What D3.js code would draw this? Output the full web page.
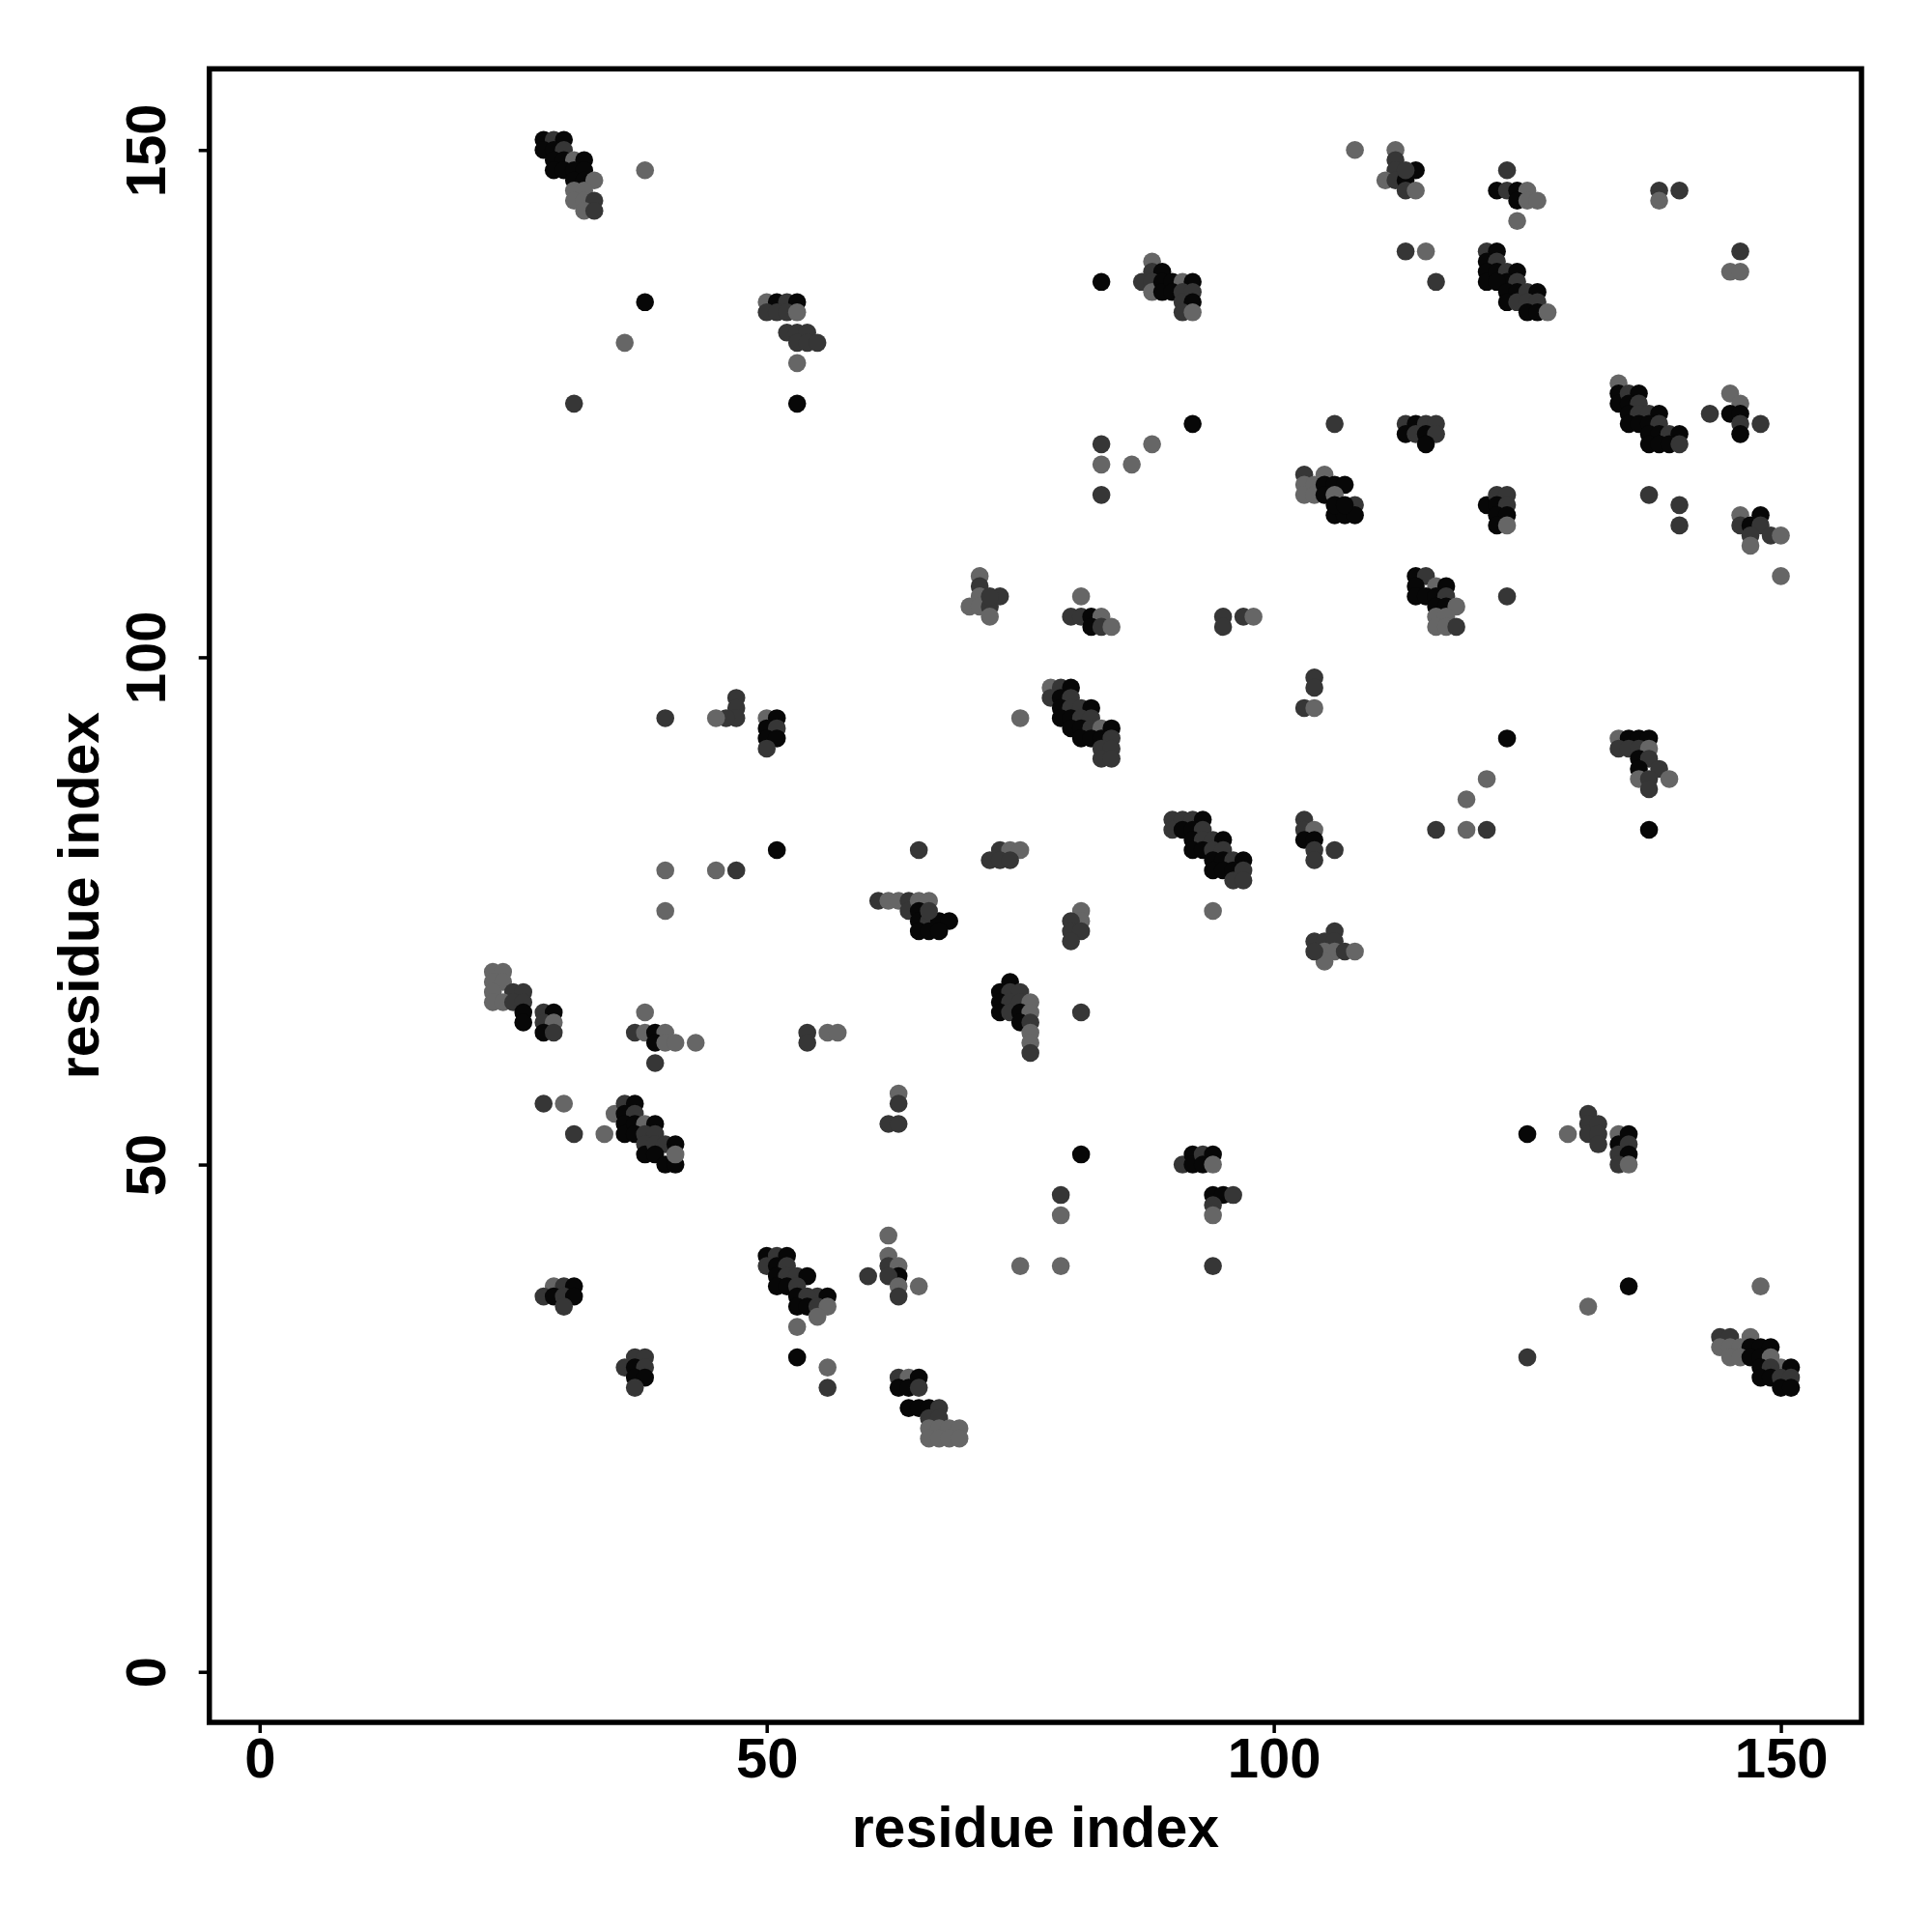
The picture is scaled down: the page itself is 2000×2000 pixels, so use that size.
<!DOCTYPE html>
<html><head><meta charset="utf-8">
<script src="https://cdn.jsdelivr.net/npm/d3@7"></script>
<style>body{margin:0;background:#fff}</style>
</head><body>
<svg id="chart" width="2000" height="2000"></svg>
<script>
// contacts: [residue i, residue j, shade level]  (3 = black, 2 = dark grey, 1 = grey)
const contacts = [
[28,151,3],[29,151,2],[30,151,3],[28,150,3],[29,150,3],[30,150,2],[29,149,3],[30,149,3],[31,149,1],[32,149,3],
[29,148,3],[30,148,3],[31,148,3],[32,148,3],[31,147,3],[32,147,3],[33,147,1],[31,146,1],[32,146,1],
[31,145,1],[32,145,1],[33,145,2],[32,144,1],[33,144,2],
[38,148,1],[38,135,3],[36,131,1],[31,125,2],
[50,135,1],[51,135,3],[52,135,2],[53,135,3],[50,134,2],[51,134,2],[52,134,2],[53,134,1],
[52,132,2],[53,132,2],[54,132,2],[53,131,2],[54,131,2],[55,131,2],[53,129,1],[53,125,3],
[108,150,1],[83,137,3],
[87,137,2],[88,139,1],[88,138,2],[89,138,3],[88,137,2],[88,136,1],[89,137,3],[89,136,3],[90,137,3],[91,137,1],[92,137,3],
[90,136,3],[91,136,2],[92,136,2],[91,135,2],[92,135,3],[91,134,2],[92,134,1],
[92,123,3],[83,121,2],[88,121,1],[83,119,1],[86,119,1],[83,116,2],[106,123,2],
[103,118,2],[103,117,1],[103,116,1],[104,117,1],[104,116,1],[105,118,1],[105,117,3],[106,117,3],[107,117,3],[105,116,3],
[106,116,1],[108,115,2],[106,114,3],[107,114,3],[108,114,3],[106,115,3],[107,115,3],
[112,150,1],[112,149,2],[112,148,2],[111,147,1],[112,147,2],[113,147,3],[113,146,2],[114,148,3],[114,146,1],[113,148,2],
[123,148,2],[122,146,3],[123,146,2],[124,146,3],[125,146,1],[124,145,3],[125,145,1],[126,145,1],[124,143,1],
[138,146,2],[140,146,2],[138,145,1],
[113,140,2],[115,140,1],[116,137,2],
[121,140,2],[122,140,3],[121,139,3],[122,139,2],[121,138,3],[121,137,3],[122,138,3],[123,138,2],[124,138,3],[123,137,3],
[122,137,3],[124,137,2],[123,136,3],[124,136,3],[125,136,2],[126,136,3],[123,135,3],[124,135,2],[125,135,2],[126,135,2],
[125,134,3],[126,134,3],[127,134,1],
[146,140,2],[145,138,1],[146,138,1],
[134,127,1],[134,126,3],[134,125,3],[135,126,2],[136,126,3],[135,125,3],[136,125,2],[135,124,3],[136,124,2],[137,124,2],
[138,124,3],[135,123,3],[136,123,3],[137,123,3],[138,123,2],[137,122,3],[138,122,3],[139,122,2],[140,122,3],
[137,121,3],[138,121,3],[139,121,3],[140,121,2],
[145,126,1],[146,125,1],[143,124,2],[145,124,3],[146,124,3],[146,123,2],[146,122,3],[148,123,2],
[113,123,2],[114,123,3],[115,123,2],[116,123,2],[113,122,3],[114,122,2],[115,122,3],[116,122,2],[115,121,3],
[121,115,3],[122,116,2],[123,116,2],[122,115,3],[123,115,2],[122,114,3],[123,114,3],[122,113,3],[123,113,1],
[137,116,2],[140,115,2],[140,113,2],
[146,114,1],[148,114,3],[146,113,2],[147,113,3],[148,113,2],[149,112,2],[150,112,1],[147,112,2],[147,111,1],
[47,96,2],[47,95,2],[47,94,2],[46,94,2],[45,94,1],[40,94,2],
[50,94,1],[51,94,3],[50,93,3],[51,93,2],[50,92,3],[51,92,3],[50,91,2],
[51,81,3],[40,79,1],[45,79,1],[47,79,2],[40,75,1],
[61,76,2],[62,76,1],[63,76,1],[64,76,2],[64,75,2],
[23,69,1],[24,69,1],[23,68,1],[24,68,1],[23,67,1],[25,67,2],[26,67,2],
[71,108,1],[71,107,2],[71,106,1],[70,105,1],[71,105,1],[72,105,2],[73,106,2],[72,106,2],[72,104,1],
[81,106,1],[80,104,2],[81,104,2],[82,104,3],[83,104,1],[82,103,3],[83,103,2],[84,103,1],
[95,104,2],[95,103,2],[97,104,2],[98,104,1],
[104,98,2],[104,97,2],[103,95,2],[104,95,1],
[75,94,1],
[78,97,1],[79,97,2],[80,97,3],[78,96,2],[79,96,3],[80,96,2],[79,95,3],[80,95,2],[81,95,2],[82,95,3],
[79,94,3],[80,94,3],[81,94,2],[82,94,2],[80,93,3],[81,93,3],[82,93,2],[83,93,1],[84,93,3],
[81,92,3],[82,92,3],[83,92,3],[84,92,2],[83,91,2],[84,91,2],[83,90,2],[84,90,2],
[65,81,2],[72,80,2],[73,81,2],[74,81,1],[75,81,1],[73,80,2],[74,80,2],
[65,76,1],[66,76,1],[65,75,3],[65,74,3],[66,74,2],[67,74,3],[68,74,3],[65,73,3],[66,73,3],[67,73,3],[66,75,2],
[81,75,1],[81,74,1],[80,74,2],[80,73,2],[81,73,2],[80,72,2],
[94,75,1],
[106,73,2],[104,72,2],[105,72,2],[106,72,2],[105,71,1],[106,71,1],[107,71,2],[108,71,1],[105,70,1],[104,71,2],
[103,84,2],[103,83,2],[104,83,1],[103,82,3],[104,82,3],[104,81,2],[104,80,2],[106,81,2],
[90,84,2],[91,84,2],[92,84,2],[93,84,3],[90,83,2],[91,83,3],[92,83,3],[93,83,2],[92,82,3],[93,82,2],[94,82,2],[95,82,3],
[92,81,3],[93,81,3],[94,81,2],[95,81,2],[94,80,3],[95,80,3],[96,80,2],[97,80,3],[94,79,3],[95,79,3],[96,79,3],[97,79,2],
[96,78,2],[97,78,2],
[150,108,1],
[114,108,3],[115,108,2],[114,107,3],[116,107,1],[117,107,3],[114,106,3],[115,106,3],[116,106,3],[117,106,2],
[116,105,3],[117,105,3],[118,105,1],[116,104,1],[117,104,1],[116,103,1],[117,103,1],[118,103,2],
[123,106,2],[123,92,3],[121,88,1],[119,86,1],[116,83,2],[119,83,1],[121,83,2],
[134,92,1],[135,92,3],[136,92,3],[137,92,3],[134,91,2],[135,91,2],[136,91,2],[137,91,1],[136,90,3],[137,90,2],
[138,89,2],[139,88,1],[136,89,3],[136,88,1],[137,88,2],[137,87,2],[137,83,3],
[23,66,1],[24,66,1],[25,66,2],[26,66,2],[26,65,3],[26,64,3],[28,65,2],[29,65,3],[28,64,2],[29,64,1],[28,63,3],[29,63,2],
[38,65,1],[37,63,2],[38,63,1],[39,63,3],[40,63,1],[39,62,3],[40,62,1],[41,62,1],[43,62,1],[39,60,2],
[54,63,2],[54,62,2],[56,63,1],[57,63,1],
[28,56,2],[30,56,1],[31,53,2],[34,53,1],
[35,55,1],[36,56,2],[37,56,3],[36,55,3],[37,55,2],[36,54,3],[36,53,3],[37,54,3],[38,54,1],[39,54,3],
[37,53,3],[38,53,2],[39,53,2],[38,52,2],[38,51,3],[39,52,2],[40,52,2],[41,52,3],[39,51,3],[40,50,3],[41,50,3],[41,51,1],
[63,57,1],[63,56,2],[62,54,2],[63,54,2],
[29,38,1],[30,38,2],[31,38,3],[28,37,2],[29,37,3],[30,37,2],[31,37,3],[30,36,2],
[50,41,3],[51,41,2],[52,41,3],[50,40,2],[51,40,3],[52,40,2],[51,39,3],[52,39,2],[53,39,2],[54,39,3],
[51,38,3],[52,38,3],[53,38,2],[55,37,2],[56,37,3],[53,37,3],[54,37,2],[53,36,3],[54,36,3],[55,36,2],[56,36,1],
[55,35,1],[53,34,1],
[53,31,3],[56,30,1],[56,28,2],
[60,39,2],[62,43,1],[62,41,1],[62,40,2],[63,40,1],[63,39,3],[62,39,2],[63,38,1],[63,37,2],[65,38,1],
[63,29,2],[64,29,1],[63,28,3],[64,28,3],[64,26,3],
[37,31,2],[38,31,2],[36,30,2],[37,30,3],[38,30,2],[37,29,3],[38,29,3],[37,28,2],
[73,67,3],[74,68,3],[74,67,2],[75,67,2],[73,66,3],[74,66,2],[75,66,2],[76,66,1],[73,65,3],[74,65,2],[75,65,3],[76,65,1],
[75,64,3],[76,64,2],[76,63,1],[76,62,1],[76,61,2],
[81,65,2],[81,51,3],[79,47,2],[79,45,1],[75,40,1],[79,40,1],
[91,50,2],[92,51,3],[92,50,3],[93,51,2],[93,50,3],[94,51,3],[94,50,1],
[94,47,3],[95,47,3],[96,47,2],[94,46,2],[94,45,1],[94,40,2],
[65,29,3],[65,28,2],[65,26,3],[66,26,3],[67,26,2],[66,25,2],[67,25,2],[66,24,1],[67,24,1],[68,24,1],[69,24,1],
[66,23,1],[67,23,1],[68,23,1],[69,23,1],
[125,53,3],[129,53,1],[131,55,2],[131,54,2],[131,53,2],[132,54,2],[132,53,2],[132,52,2],
[134,53,1],[135,53,3],[134,52,3],[135,52,2],[134,51,2],[135,51,3],[134,50,2],[135,50,1],
[135,38,3],[131,36,1],[148,38,1],[125,31,2],
[144,33,2],[145,33,2],[147,33,1],[144,32,1],[145,32,1],[146,32,1],[147,32,3],[148,32,3],[149,32,3],
[145,31,1],[146,31,1],[147,31,3],[148,31,3],[149,31,1],[150,30,1],[151,30,3],[148,30,3],[149,30,2],
[148,29,3],[149,29,3],[150,29,2],[151,29,2],[150,28,3],[151,28,3]
];
const xTicks = [0, 50, 100, 150];
const yTicks = [0, 50, 100, 150];
const xLimits = [-4.96, 157.95];
const yLimits = [-4.98, 158.0];
const xTitle = "residue index";
const yTitle = "residue index";
const shadeLevels = [1, 2, 3];
const shadeColors = ["#666666", "#363636", "#070707"];

const svg = d3.select("#chart");
svg.append("rect").attr("width", 2000).attr("height", 2000).attr("fill", "#fff");

const L = 216.7, R = 1927, T = 71.25, B = 1783;
const x = d3.scaleLinear().domain(xLimits).range([L, R]);
const y = d3.scaleLinear().domain(yLimits).range([B, T]);
const shade = d3.scaleOrdinal().domain(shadeLevels).range(shadeColors);

// points
svg.append("g").selectAll("circle").data(contacts).join("circle")
  .attr("cx", d => x(d[0])).attr("cy", d => y(d[1])).attr("r", 9.3)
  .attr("fill", d => shade(d[2]));

const font = "'Liberation Sans', Arial, Helvetica, sans-serif";

// x axis
const gx = svg.append("g").attr("transform", `translate(0,${B})`)
  .call(d3.axisBottom(x).tickValues(xTicks).tickSize(11).tickSizeOuter(0).tickFormat(d3.format("d")));
gx.select(".domain").remove();
gx.selectAll(".tick line").attr("stroke", "#000").attr("stroke-width", 3.5);
gx.selectAll(".tick text").attr("y", 57).attr("dy", 0)
  .attr("font-family", font).attr("font-weight", "bold").attr("font-size", 58).attr("fill", "#000");

// y axis
const gy = svg.append("g").attr("transform", `translate(${L},0)`)
  .call(d3.axisLeft(y).tickValues(yTicks).tickSize(11).tickSizeOuter(0).tickFormat(d3.format("d")));
gy.select(".domain").remove();
gy.selectAll(".tick line").attr("stroke", "#000").attr("stroke-width", 3.5);
gy.selectAll(".tick text").attr("x", 0).attr("y", 0).attr("dy", 0)
  .attr("transform", "translate(-46,0) rotate(-90)")
  .attr("text-anchor", "middle")
  .attr("font-family", font).attr("font-weight", "bold").attr("font-size", 58).attr("fill", "#000");

// box
svg.append("rect").attr("x", L).attr("y", T).attr("width", R - L).attr("height", B - T)
  .attr("fill", "none").attr("stroke", "#000").attr("stroke-width", 5.5);

// titles
svg.append("text").attr("x", (L + R) / 2).attr("y", 1912).attr("text-anchor", "middle")
  .attr("font-family", font).attr("font-weight", "bold").attr("font-size", 59).text(xTitle);
svg.append("text").attr("transform", `translate(102,${(T + B) / 2}) rotate(-90)`).attr("text-anchor", "middle")
  .attr("font-family", font).attr("font-weight", "bold").attr("font-size", 59).text(yTitle);
</script>
</body></html>
